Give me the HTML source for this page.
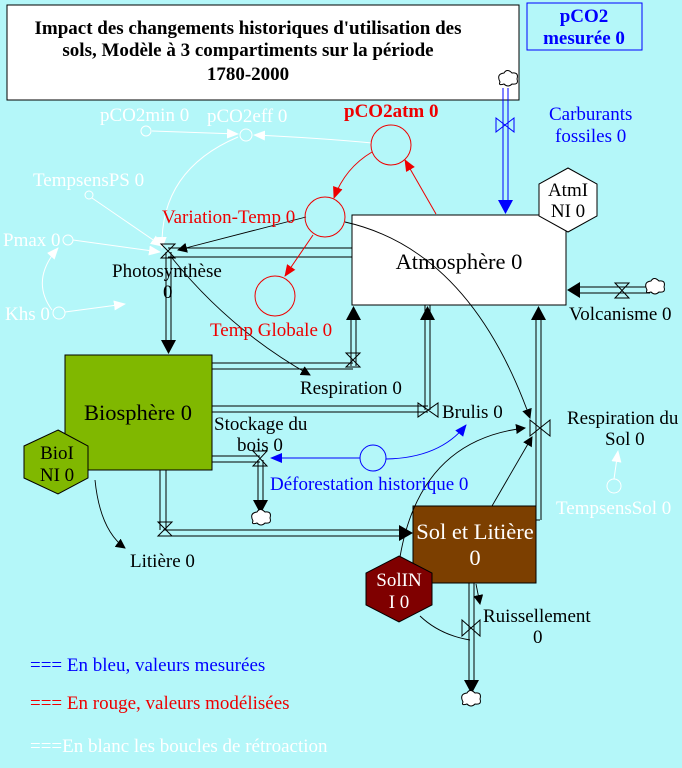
<!DOCTYPE html>
<html><head><meta charset="utf-8"><style>
html,body{margin:0;padding:0;width:682px;height:768px;overflow:hidden;background:#b4f7f9}
svg{display:block}
text{font-family:"Liberation Serif",serif}
</style></head><body>
<svg width="682" height="768" viewBox="0 0 682 768" xmlns="http://www.w3.org/2000/svg">
<defs>
<marker id="ab" markerWidth="10" markerHeight="10" refX="9" refY="5" orient="auto" markerUnits="userSpaceOnUse"><path d="M0,0 L10,5 L0,10z" fill="#000"/></marker>
<marker id="ar" markerWidth="12" markerHeight="12" refX="11" refY="6" orient="auto" markerUnits="userSpaceOnUse"><path d="M0,1 L12,6 L0,11z" fill="#e00"/></marker>
<marker id="aw" markerWidth="12" markerHeight="12" refX="11" refY="6" orient="auto" markerUnits="userSpaceOnUse"><path d="M0,1 L12,6 L0,11z" fill="#fff"/></marker>
<marker id="au" markerWidth="12" markerHeight="12" refX="11" refY="6" orient="auto" markerUnits="userSpaceOnUse"><path d="M0,1 L12,6 L0,11z" fill="#00f"/></marker>
</defs>

<!-- title -->
<rect x="7" y="5" width="512" height="95" fill="#fff" stroke="#000"/>
<g font-weight="bold" font-size="19" text-anchor="middle" fill="#000">
<text x="248" y="34">Impact des changements historiques d'utilisation des</text>
<text x="248" y="56">sols, Modèle à 3 compartiments sur la période</text>
<text x="248" y="80">1780-2000</text>
</g>
<rect x="527" y="3" width="115" height="47" fill="none" stroke="#00f"/>
<g font-weight="bold" font-size="19" text-anchor="middle" fill="#00f">
<text x="584" y="22">pCO2</text><text x="584" y="44">mesurée 0</text></g>

<!-- white feedback -->
<g stroke="#fff" fill="none" stroke-width="1">
<circle cx="146" cy="131" r="5"/><circle cx="246" cy="135" r="6"/>
<line x1="152" y1="131" x2="238" y2="134" marker-end="url(#aw)"/>
<path d="M372,143 Q320,138 254,135" marker-end="url(#aw)"/>
<path d="M238,137 Q160,170 162,248" marker-end="url(#aw)"/>
<circle cx="89" cy="195" r="4"/>
<line x1="92" y1="198" x2="162" y2="246" marker-end="url(#aw)"/>
<circle cx="68" cy="240" r="5"/>
<line x1="73" y1="240" x2="160" y2="252" marker-end="url(#aw)"/>
<circle cx="59" cy="313" r="6"/>
<line x1="65" y1="312" x2="125" y2="304" marker-end="url(#aw)"/>
<path d="M52,310 Q30,280 58,248" marker-end="url(#aw)"/>
<circle cx="614" cy="486" r="7"/>
<line x1="614" y1="479" x2="618" y2="451" marker-end="url(#aw)"/>
</g>
<g fill="#fff" font-size="19">
<text x="100" y="121">pCO2min 0</text><text x="207" y="122">pCO2eff 0</text>
<text x="33" y="186">TempsensPS 0</text>
<text x="3" y="246">Pmax 0</text><text x="5" y="320">Khs 0</text>
<text x="556" y="514">TempsensSol 0</text>
<text x="30" y="752">===En blanc les boucles de rétroaction</text>
</g>

<!-- boxes -->
<rect x="352" y="215" width="214" height="90" fill="#fff" stroke="#000"/>
<text x="459" y="269" font-size="22.5" text-anchor="middle">Atmosphère 0</text>
<rect x="65" y="355" width="147" height="115" fill="#80b800" stroke="#000"/>
<text x="138" y="420" font-size="22.5" text-anchor="middle">Biosphère 0</text>
<rect x="413" y="506" width="123" height="77" fill="#7c3f00" stroke="#000"/>
<g fill="#fff" font-size="22.5" text-anchor="middle"><text x="475" y="539">Sol et Litière</text><text x="475" y="565">0</text></g>

<!-- flows -->
<g stroke="#000" fill="none">
<line x1="168" y1="248" x2="352" y2="248"/><line x1="168" y1="257" x2="352" y2="257"/>
<line x1="166" y1="252" x2="166" y2="340"/><line x1="171" y1="252" x2="171" y2="340"/>
<line x1="212" y1="363" x2="353" y2="363"/><line x1="212" y1="369" x2="353" y2="369"/>
<line x1="351" y1="320" x2="351" y2="366"/><line x1="356" y1="320" x2="356" y2="366"/>
<line x1="212" y1="406" x2="428" y2="406"/><line x1="212" y1="412" x2="428" y2="412"/>
<line x1="425" y1="305" x2="425" y2="410"/><line x1="430" y1="305" x2="430" y2="410"/>
<line x1="212" y1="456" x2="260" y2="456"/><line x1="212" y1="462" x2="260" y2="462"/>
<line x1="258" y1="460" x2="258" y2="500"/><line x1="263" y1="460" x2="263" y2="500"/>
<line x1="160" y1="470" x2="160" y2="530"/><line x1="166" y1="470" x2="166" y2="530"/>
<line x1="163" y1="530" x2="400" y2="530"/><line x1="163" y1="536" x2="400" y2="536"/>
<line x1="536" y1="520" x2="540" y2="520"/>
<line x1="536" y1="320" x2="536" y2="520"/><line x1="541" y1="320" x2="541" y2="520"/>
<line x1="469" y1="583" x2="469" y2="680"/><line x1="474" y1="583" x2="474" y2="680"/>
<line x1="580" y1="287" x2="650" y2="287"/><line x1="580" y1="293" x2="650" y2="293"/>
</g>
<g stroke="#00f" fill="none">
<line x1="503" y1="88" x2="503" y2="200"/><line x1="508" y1="88" x2="508" y2="200"/>
</g>
<g fill="#000">
<path d="M161,340 L176,340 L168.5,354z"/>
<path d="M346,320 L361,320 L353.5,306z"/>
<path d="M420,320 L435,320 L427.5,306z"/>
<path d="M531,320 L546,320 L538.5,306z"/>
<path d="M253,500 L268,500 L260.5,514z"/>
<path d="M464,680 L479,680 L471.5,694z"/>
<path d="M399,525 L399,541 L413,533z"/>
<path d="M580,282 L580,298 L567,290z"/>
</g>
<path d="M498,200 L513,200 L505.5,214z" fill="#00f"/>
<g stroke="#000" fill="none">
<path d="M161,244 L175,244 L161,258 L175,258z"/>
<path d="M346,353 L360,353 L346,367 L360,367z"/>
<path d="M418,403 L418,417 L438,403 L438,417z"/>
<path d="M253,451 L267,451 L253,466 L267,466z"/>
<path d="M158,522 L172,522 L158,536 L172,536z"/>
<path d="M530,420 L530,436 L550,420 L550,436z"/>
<path d="M462,620 L462,636 L480,620 L480,636z"/>
<path d="M615,283 L629,283 L615,298 L629,298z"/>
</g>
<path d="M496,118 L496,132 L514,118 L514,132z" stroke="#00f" fill="none"/>
<g stroke="#000" fill="#fff">
<path d="M500,82 q-4,-8 4,-9 q3,-5 8,0 q7,-1 5,6 q2,6 -5,5 q-4,4 -8,0 q-6,2 -4,-2z"/>
<path d="M647,290 q-4,-8 4,-9 q3,-5 8,0 q7,-1 5,6 q2,6 -5,5 q-4,4 -8,0 q-6,2 -4,-2z"/>
<path d="M253,521 q-4,-8 4,-9 q3,-5 8,0 q7,-1 5,6 q2,6 -5,5 q-4,4 -8,0 q-6,2 -4,-2z"/>
<path d="M463,702 q-4,-8 4,-9 q3,-5 8,0 q7,-1 5,6 q2,6 -5,5 q-4,4 -8,0 q-6,2 -4,-2z"/>
</g>

<g stroke="#000" fill="none" stroke-width="0.9">
<line x1="306" y1="217" x2="178" y2="250" marker-end="url(#ab)"/>
<path d="M345,222 Q470,250 530,418" marker-end="url(#ab)"/>
<path d="M172,258 Q230,330 310,375" marker-end="url(#ab)"/>
<path d="M400,557 Q420,440 525,428" marker-end="url(#ab)"/>
<line x1="492" y1="506" x2="532" y2="437" marker-end="url(#ab)"/>
<path d="M95,480 Q100,530 125,548" marker-end="url(#ab)"/>
<line x1="476" y1="584" x2="480" y2="604" marker-end="url(#ab)"/>
<path d="M420,616 Q440,635 470,640"/>
</g>

<g stroke="#e00" fill="none">
<circle cx="391" cy="145" r="20"/><circle cx="325" cy="217" r="20"/><circle cx="275" cy="296" r="20"/>
<line x1="436" y1="214" x2="405" y2="160" marker-end="url(#ar)"/>
<path d="M372,152 Q345,168 334,198" marker-end="url(#ar)"/>
<line x1="313" y1="235" x2="285" y2="276" marker-end="url(#ar)"/>
</g>
<g fill="#e00" font-size="19">
<text x="344" y="117" font-weight="bold">pCO2atm 0</text>
<text x="162" y="223">Variation-Temp 0</text>
<text x="210" y="336">Temp Globale 0</text>
<text x="30" y="709">=== En rouge, valeurs modélisées</text>
</g>

<g stroke="#00f" fill="none">
<circle cx="373" cy="458" r="13"/>
<line x1="360" y1="458" x2="271" y2="458" marker-end="url(#au)"/>
<path d="M386,459 Q440,458 466,425" marker-end="url(#au)"/>
</g>
<g fill="#00f" font-size="19">
<text x="549" y="120">Carburants</text><text x="555" y="142">fossiles 0</text>
<text x="270" y="490">Déforestation historique 0</text>
<text x="30" y="671">=== En bleu, valeurs mesurées</text>
</g>

<path d="M568,168 L597,184 L597,216 L568,232 L539,216 L539,184z" fill="#fff" stroke="#000"/>
<g font-size="19" text-anchor="middle"><text x="568" y="196">AtmI</text><text x="568" y="217">NI 0</text></g>
<path d="M58,430 L88,446 L88,478 L58,494 L24,478 L24,446z" fill="#80b800" stroke="#000"/>
<g font-size="19" text-anchor="middle"><text x="57" y="459">BioI</text><text x="57" y="481">NI 0</text></g>
<path d="M399,556 L432,573 L432,605 L399,622 L366,605 L366,573z" fill="#7f0000" stroke="#000"/>
<g font-size="19" text-anchor="middle" fill="#fff"><text x="399" y="586">SolIN</text><text x="399" y="608">I 0</text></g>

<g font-size="19" fill="#000">
<text x="112" y="277">Photosynthèse</text><text x="163" y="298">0</text>
<text x="300" y="394">Respiration 0</text>
<text x="442" y="418">Brulis 0</text>
<text x="214" y="430">Stockage du</text><text x="237" y="451">bois 0</text>
<text x="567" y="424">Respiration du</text><text x="605" y="445">Sol 0</text>
<text x="130" y="567">Litière 0</text>
<text x="483" y="622">Ruissellement</text><text x="533" y="643">0</text>
<text x="569" y="320">Volcanisme 0</text>
</g>
</svg>
</body></html>
